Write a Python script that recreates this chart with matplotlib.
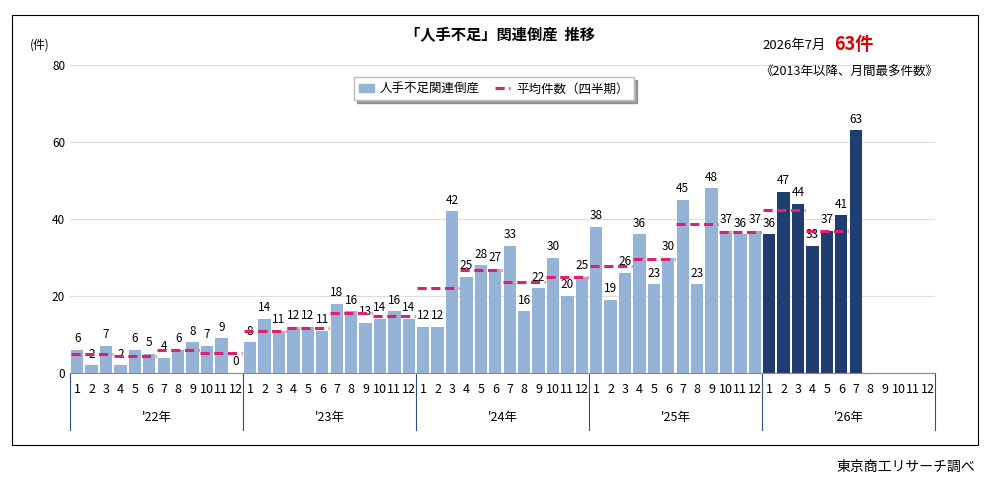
import matplotlib.pyplot as plt
from matplotlib.patches import Rectangle
from matplotlib.lines import Line2D
import numpy as np

plt.rcParams['font.family'] = ['Noto Sans CJK JP', 'DejaVu Sans']

years = ["'22年", "'23年", "'24年", "'25年", "'26年"]
months = [str(m) for m in range(1, 13)]
counts = [6, 2, 7, 2, 6, 5, 4, 6, 8, 7, 9, 0,
          8, 14, 11, 12, 12, 11, 18, 16, 13, 14, 16, 14,
          12, 12, 42, 25, 28, 27, 33, 16, 22, 30, 20, 25,
          38, 19, 26, 36, 23, 30, 45, 23, 48, 37, 36, 37,
          36, 47, 44, 33, 37, 41, 63]
quarter_avg = [5.0, 4.3, 6.0, 5.3,
               11.0, 11.7, 15.7, 14.7,
               22.0, 26.7, 23.7, 25.0,
               27.7, 29.7, 38.7, 36.7,
               42.3, 37.0]

light = '#95b3d7'
dark = '#1f3d6e'
pink = '#e0206e'

fig = plt.figure(figsize=(9.92, 4.87), dpi=100)
fig.patches.append(Rectangle((12/992, 1-445/487), 966/992, 430/487, transform=fig.transFigure,
                             fill=False, edgecolor='black', linewidth=0.8))
ax = fig.add_axes([70/992, 1-373/487, 865/992, 308/487])

n_slots = 12 * len(years)
x = np.arange(len(counts))
colors = [light if i < 48 else dark for i in x]
ax.bar(x, counts, width=0.85, color=colors, zorder=2)
for i, v in enumerate(counts):
    ax.text(i, v + 1.2, str(v), ha='center', va='bottom', fontsize=8.5)
for q, a in enumerate(quarter_avg):
    ax.plot([3*q - 0.45, 3*q + 2.45], [a, a], color=pink, lw=2.2, ls=(0, (3, 1.5)), zorder=3)

ax.set_xlim(-0.5, n_slots - 0.5)
ax.set_ylim(0, 80)
ax.set_yticks([0, 20, 40, 60, 80])
ax.tick_params(axis='y', length=0, labelsize=8.5)
ax.set_xticks([])
ax.yaxis.grid(True, color='#dddddd', lw=0.8, zorder=0)
for s in ['top', 'right', 'left']:
    ax.spines[s].set_visible(False)
ax.spines['bottom'].set_color('#888888')

trans = ax.get_xaxis_transform()
for i in range(n_slots):
    ax.text(i, -0.055, months[i % 12], transform=trans, ha='center', va='center', fontsize=9, clip_on=False)
for k, y in enumerate(years):
    ax.text(12*k + 5.5, -0.145, y, transform=trans, ha='center', va='center', fontsize=9, clip_on=False)
for k in range(len(years) + 1):
    ax.add_line(Line2D([12*k - 0.5]*2, [0, -0.185], transform=trans, color='#2f4f7f', lw=0.8, clip_on=False))

fig.text(40/992, 1-45/487, '(件)', fontsize=8.5, ha='center', va='center')
fig.text(500/992, 1-35/487, '「人手不足」関連倒産  推移', fontsize=11, fontweight='bold', ha='center', va='center')
fig.text(762/992, 1-45/487, '2026年7月', fontsize=9.5, ha='left', va='center')
fig.text(834/992, 1-45/487, '63件', fontsize=13, fontweight='bold', color='#e00000', ha='left', va='center')
fig.text(760/992, 1-72/487, '《2013年以降、月間最多件数》', fontsize=9, ha='left', va='center')
fig.text(975/992, 1-467/487, '東京商工リサーチ調べ', fontsize=10, ha='right', va='center')

handles = [Rectangle((0, 0), 1, 1, color=light),
           Line2D([0], [0], color=pink, lw=2.2, ls=(0, (3, 1.5)))]
leg = ax.legend(handles, ['人手不足関連倒産', '平均件数（四半期）'], loc='upper center',
                bbox_to_anchor=(0.49, 0.98), ncol=2, fontsize=9, frameon=True, shadow=True,
                fancybox=False, handlelength=1.2, handletextpad=0.5, columnspacing=1.2)
leg.get_frame().set_edgecolor('#bbbbbb')

fig.savefig('out.png', dpi=100)
